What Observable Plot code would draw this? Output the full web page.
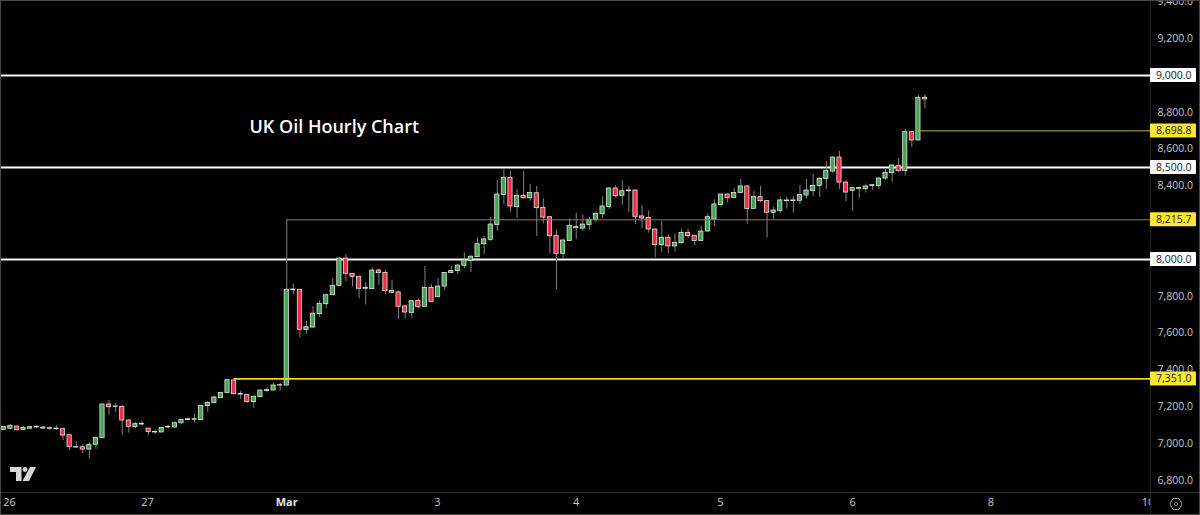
<!DOCTYPE html>
<html>
<head>
<meta charset="utf-8">
<script src="https://cdn.jsdelivr.net/npm/d3@7"></script>
<script src="https://cdn.jsdelivr.net/npm/@observablehq/plot@0.6"></script>
<style>
html,body{margin:0;padding:0;background:#000;overflow:hidden}
#chart{position:relative;width:1200px;height:515px}
#chart svg{display:block;outline:1px solid #4a4a4a;outline-offset:-1px}
</style>
</head>
<body>
<div id="chart"></div>
<script>
const opens = [7074,7080,7092,7074,7080,7087,7087,7083,7078,7078,7045,6980,6980,6967,6993,7029,7212,7201,7199,7125,7089,7107,7081,7063,7060,7087,7087,7110,7127,7129,7127,7203,7219,7246,7275,7342,7270,7263,7225,7252,7286,7288,7315,7315,7837,7835,7616,7630,7703,7757,7806,7857,8005,7922,7906,7846,7839,7940,7927,7830,7821,7745,7710,7775,7743,7846,7795,7853,7926,7937,7966,7991,8013,8083,8107,8188,8351,8444,8286,8346,8333,8360,8281,8230,8129,8031,8100,8176,8168,8187,8214,8246,8286,8386,8346,8371,8375,8234,8226,8163,8078,8118,8071,8089,8145,8129,8100,8152,8217,8297,8353,8335,8361,8397,8275,8339,8317,8254,8264,8321,8317,8319,8348,8373,8399,8437,8478,8554,8418,8373,8384,8382,8400,8400,8440,8469,8509,8480,8692,8647,8879];
const highs = [7091,7103,7096,7092,7092,7096,7091,7092,7096,7081,7045,7009,6995,7004,7031,7212,7234,7216,7205,7132,7114,7120,7081,7071,7085,7098,7120,7129,7134,7161,7208,7228,7257,7279,7346,7346,7284,7263,7257,7290,7303,7326,7326,7842,7866,7835,7665,7743,7777,7806,7895,8011,8027,7922,7906,7875,7955,7949,7944,7888,7828,7748,7777,7786,7962,7864,7897,7927,7962,7976,8036,8022,8118,8125,8228,8429,8493,8478,8380,8478,8409,8397,8330,8230,8161,8112,8221,8252,8243,8230,8261,8341,8390,8402,8428,8397,8379,8293,8264,8167,8208,8134,8139,8165,8165,8129,8181,8248,8324,8353,8357,8388,8435,8399,8370,8397,8319,8283,8335,8337,8341,8402,8435,8464,8446,8533,8558,8587,8429,8390,8393,8411,8406,8446,8495,8514,8551,8707,8696,8891,8895];
const lows = [7072,7076,7067,7072,7078,7080,7076,7069,7071,7016,6962,6973,6944,6915,6969,7029,7154,7168,7045,7056,7081,7096,7042,7049,7058,7080,7085,7105,7125,7110,7125,7170,7217,7245,7274,7266,7239,7219,7190,7250,7275,7286,7284,7315,7810,7574,7594,7629,7685,7732,7804,7855,7880,7851,7786,7752,7837,7859,7810,7817,7674,7678,7681,7732,7741,7768,7793,7832,7924,7917,7951,7929,8011,8027,8098,8154,8297,8257,8223,8328,8317,8125,8194,8031,7835,8002,8098,8107,8154,8158,8201,8223,8272,8333,8295,8255,8190,8168,8143,8009,8038,8031,8040,8083,8116,8076,8098,8150,8181,8284,8308,8333,8359,8192,8274,8308,8118,8216,8250,8274,8252,8299,8328,8342,8337,8380,8469,8380,8315,8261,8332,8362,8377,8380,8429,8420,8475,8453,8609,8645,8817];
const closes = [7089,7096,7072,7085,7089,7091,7081,7080,7081,7043,6980,6978,6967,6993,7031,7212,7197,7199,7125,7091,7105,7103,7063,7060,7085,7091,7110,7129,7132,7132,7205,7221,7250,7275,7344,7268,7266,7225,7254,7288,7290,7315,7317,7835,7833,7618,7632,7705,7759,7806,7857,8005,7922,7906,7841,7841,7940,7926,7828,7819,7743,7712,7773,7741,7846,7770,7853,7927,7938,7967,7995,8015,8083,8109,8190,8353,8444,8288,8346,8333,8362,8279,8228,8127,8031,8103,8183,8170,8190,8216,8248,8288,8386,8344,8371,8375,8232,8223,8163,8078,8118,8071,8091,8145,8127,8100,8152,8230,8299,8353,8333,8361,8397,8275,8339,8317,8254,8266,8321,8317,8321,8350,8375,8400,8438,8482,8554,8418,8364,8388,8388,8397,8404,8440,8471,8511,8480,8692,8647,8879,8870];

const whiteLevels = [9000, 8500, 8000];
const yellowLevels = [8698.8, 8215.7, 7351];
const yellowStart = [139, 43, 35];
const priceTicks = [9400,9200,8800,8600,8400,7800,7600,7400,7200,7000,6800];
const timeLabels = ["26","27","Mar","3","4","5","6","8","10"];
const timeIndex = [0.87,21.84,43,65.9,87,108.9,129,150,173.9];
const chartTitle = "UK Oil Hourly Chart";

const candles = opens.map((o,i)=>({i,o,h:highs[i],l:lows[i],c:closes[i]}));
const xEdge = 174.27, xFar = 183, tagEnd = 181.26;
const fontAxis = "'Open Sans',sans-serif";
const fmt = d3.format(",.1f");
const timeRows = timeLabels.map((t,k)=>({t,x:timeIndex[k]}));

const plot = Plot.plot({
  width:1200, height:515,
  marginLeft:0, marginRight:50, marginTop:0, marginBottom:23,
  style:{background:"#000", color:"#c4c4c4", fontFamily:fontAxis, fontSize:"10.5px", overflow:"hidden"},
  x:{domain:[-0.5015,xEdge], axis:null},
  y:{domain:[6733.7,9407.6], axis:null},
  marks:[
    Plot.text(timeRows.filter(d=>d.t!=="Mar"),{x:"x",text:"t",frameAnchor:"bottom",dy:13,fill:"#c8c8c8",fontSize:11}),
    Plot.text(timeRows.filter(d=>d.t==="Mar"),{x:"x",text:"t",frameAnchor:"bottom",dy:13,fill:"#e8e8e8",fontSize:11,fontWeight:"700"}),
    Plot.ruleY(whiteLevels,{stroke:"#ffffff",strokeWidth:2}),
    Plot.ruleX(candles,{x:"i",y1:"l",y2:"h",stroke:"#808080",strokeWidth:1}),
    Plot.rect(candles,{
      x1:d=>d.i-0.32,x2:d=>d.i+0.32,y1:"o",y2:"c",
      fill:d=>d.c>=d.o?"#3fa651":"#f5293f",
      stroke:"#e4e4e4",strokeWidth:0.8
    }),
    Plot.ruleY(yellowLevels,{
      x1:(d,k)=>yellowStart[k],x2:xEdge,
      stroke:(d,k)=>["#c9b820","#8f8428","#f0d81c"][k],
      strokeWidth:(d,k)=>k===2?1.6:1
    }),
    Plot.ruleX([43],{y1:8215.7,y2:7835,stroke:"#808078",strokeWidth:1}),
    Plot.rect([0],{x1:xEdge,x2:xFar,y1:6000,y2:9500,fill:"#000"}),
    Plot.ruleX([xEdge],{y1:6000,y2:9500,stroke:"#242424",strokeWidth:1}),
    Plot.ruleY([6733.7],{x1:-1,x2:xFar,stroke:"#2c2c2c",strokeWidth:1}),
    Plot.axisY({anchor:"right",ticks:priceTicks,tickSize:0,tickPadding:7,tickFormat:fmt,label:null,fill:"#c4c4c4",fontSize:10.5}),
    Plot.rect(whiteLevels,{x1:xEdge,x2:tagEnd,y1:d=>d-38,y2:d=>d+38,fill:"#ffffff",r:1}),
    Plot.rect(yellowLevels,{x1:xEdge,x2:tagEnd,y1:d=>d-38,y2:d=>d+38,fill:"#fde632",r:1}),
    Plot.text(whiteLevels.concat(yellowLevels),{x:177.8,y:d=>d,text:fmt,fill:"#1a1a1a",fontSize:10.5}),
    Plot.text([chartTitle],{x:37.34,y:8717,text:d=>d,textAnchor:"start",fill:"#ffffff",fontSize:18,fontWeight:"600",fontFamily:"'Open Sans',sans-serif"})
  ]
});
document.getElementById("chart").appendChild(plot);

const ns = "http://www.w3.org/2000/svg";
const logo = document.createElementNS(ns,"path");
logo.setAttribute("d","M10 467H21.5V481H16V472H10Z M30 467H36L29 481H22.5Z");
logo.setAttribute("fill","#d6d6d6");
plot.appendChild(logo);
const dot = document.createElementNS(ns,"circle");
dot.setAttribute("cx","25");dot.setAttribute("cy","469.5");dot.setAttribute("r","2.4");dot.setAttribute("fill","#d6d6d6");
plot.appendChild(dot);
const hex = document.createElementNS(ns,"path");
hex.setAttribute("d","M1170 504L1173 498.5H1179L1182 504L1179 509.5H1173Z M1176 502.5a1.5 1.5 0 1 0 .01 0Z");
hex.setAttribute("fill","none");hex.setAttribute("stroke","#a8a8a8");hex.setAttribute("stroke-width","0.9");
plot.appendChild(hex);
</script>
</body>
</html>
